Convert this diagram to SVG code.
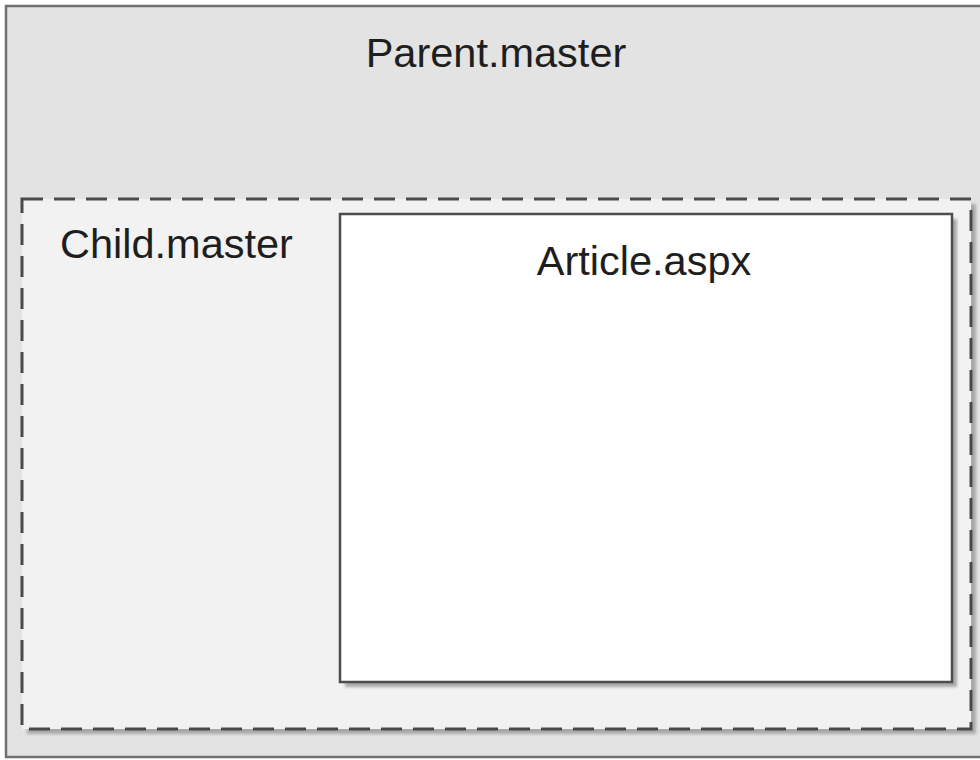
<svg xmlns="http://www.w3.org/2000/svg" width="980" height="760" viewBox="0 0 980 760">
<defs>
<style>
.lbl{font-family:"Liberation Sans",Arial,sans-serif;font-size:41.5px;fill:#1e1e1e}
.shadow{fill:#a8a8a8}
</style>
<filter id="blur" x="-5%" y="-5%" width="110%" height="110%"><feGaussianBlur stdDeviation="1.5"/></filter>
</defs>
<rect width="980" height="760" fill="#ffffff"/>
<g id="parent">
<rect x="6" y="6" width="990" height="751" fill="#e3e3e3" stroke="#707070" stroke-width="2.5"/>
<text class="lbl" x="496" y="67" text-anchor="middle">Parent.master</text>
</g>
<g id="child">
<rect class="shadow" x="27" y="204" width="949" height="530" filter="url(#blur)"/>
<rect x="22" y="199" width="949" height="530" fill="#f2f2f2" stroke="#4a4a4a" stroke-width="3" stroke-dasharray="21 11"/>
<text class="lbl" x="60" y="258">Child.master</text>
</g>
<g id="article">
<rect class="shadow" x="345" y="219" width="612" height="468" filter="url(#blur)"/>
<rect x="340" y="214" width="612" height="468" fill="#ffffff" stroke="#4d4d4d" stroke-width="2.5"/>
<text class="lbl" x="644" y="275" text-anchor="middle">Article.aspx</text>
</g>
<g id="connectors"/>
</svg>
